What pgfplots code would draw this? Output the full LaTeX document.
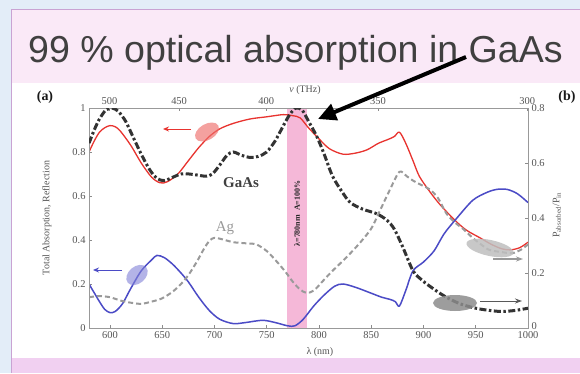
\documentclass[border=0pt]{standalone}
\usepackage{pgfplots}
\pgfplotsset{compat=1.18}
\usepackage{fontspec}
\setmainfont{Liberation Serif}
\newfontfamily\titlefont{Liberation Sans}
\usetikzlibrary{arrows.meta}
\definecolor{outerblue}{HTML}{E3EDF8}
\definecolor{pinktop}{HTML}{FAE9F7}
\definecolor{pinkbot}{HTML}{F1D0F1}
\definecolor{panelborder}{HTML}{C9A3D3}
\definecolor{bandpink}{HTML}{F5B8D8}
\definecolor{cred}{HTML}{E8332F}
\definecolor{cblue}{HTML}{4B4BC6}
\definecolor{cblack}{HTML}{333333}
\definecolor{cgray}{HTML}{9A9A9A}
\definecolor{ticktext}{HTML}{555555}
\pgfplotsset{common/.style={at={(89bp,45bp)}, anchor=south west, scale only axis,
  width=439bp, height=220bp, xmin=580, xmax=1000,
  tick align=inside, major tick length=3bp,
  axis line style={black!40, line width=0.7bp},
  tick style={black!45, line width=0.6bp},
  ticklabel style={font=\fontsize{10.5}{12}\selectfont, text=ticktext},
  /pgf/number format/assume math mode=true, /pgf/number format/1000 sep={},
  label style={font=\fontsize{10}{12}\selectfont, text=ticktext}}}
\begin{document}
\begin{tikzpicture}
\begin{scope}[x=1bp,y=1bp]
\useasboundingbox (0,0) rectangle (580,373);
\clip (0,0) rectangle (580,373);
\fill[outerblue] (0,0) rectangle (580,373);
\fill[pinktop] (11,0) rectangle (580,363);
\fill[white] (12,15) rectangle (580,290);
\fill[pinkbot] (12,0) rectangle (580,15);
\draw[panelborder, line width=1bp] (11,0) -- (11,363) -- (580,363);
\node[anchor=base west, inner sep=0, font=\titlefont\fontsize{37.7}{40}\selectfont, text=black!75] at (28,311) {99 \% optical absorption in GaAs};
\end{scope}

\begin{axis}[common, ymin=0, ymax=1,
  xtick={600,650,700,750,800,850,900,950,1000},
  ytick={0,0.2,0.4,0.6,0.8,1}, yticklabels={0,0.2,0.4,0.6,0.8,1},
  xtick pos=lower, ytick pos=left,
  xlabel={λ (nm)}, xlabel style={at={(axis description cs:0.526,-0.109)}, anchor=center},
  ylabel={Total Absorption, Reflection}, ylabel style={at={(axis description cs:-0.096,0.5)}, anchor=center}]
\fill[bandpink] (axis cs:769,0) rectangle (axis cs:789,1);
\addplot[cred, line width=1.3bp, smooth, tension=0.5] coordinates {
(580,0.80) (585,0.85) (590,0.89) (595,0.91) (600,0.92) (605,0.915) (610,0.895)
(620,0.83) (630,0.75) (640,0.685) (648,0.66) (655,0.665) (665,0.70) (675,0.76)
(685,0.82) (695,0.87) (705,0.905) (718,0.93) (734,0.95) (750,0.96) (766,0.97)
(775,0.965) (782,0.955) (790,0.91) (800,0.86) (810,0.815) (823,0.79) (835,0.795)
(846,0.81) (857,0.84) (865,0.855) (872,0.87) (877,0.89) (883,0.84) (890,0.76)
(896,0.69) (906,0.62) (916,0.56) (930,0.49) (941,0.445) (954,0.41) (965,0.38)
(975,0.36) (983,0.355) (992,0.365) (1000,0.39)};
\addplot[cblue, line width=1.5bp, smooth, tension=0.5] coordinates {
(580,0.20) (585,0.16) (590,0.12) (595,0.085) (600,0.07) (605,0.075) (612,0.11)
(620,0.18) (630,0.26) (640,0.31) (645,0.33) (652,0.32) (660,0.29) (668,0.25)
(675,0.21) (685,0.14) (695,0.08) (705,0.04) (718,0.02) (730,0.025) (746,0.035)
(758,0.025) (770,0.01) (777,0.01) (785,0.04) (795,0.10) (805,0.15) (815,0.19)
(823,0.20) (835,0.185) (849,0.16) (860,0.14) (868,0.13) (873,0.12) (877,0.10)
(883,0.17) (890,0.26) (900,0.30) (910,0.35) (920,0.43) (932,0.50) (947,0.58)
(960,0.615) (970,0.63) (980,0.63) (990,0.61) (1000,0.57)};
\node[rotate=90, font=\fontsize{8}{9}\selectfont\bfseries, text=black!85, inner sep=0] at (axis cs:779,0.52) {λ=780nm\ \ A=100\%};
\end{axis}

\begin{axis}[common, ymin=0, ymax=0.8,
  xtick={599.585,666.205,749.481,856.550,999.308}, xticklabels={500,450,400,350,300},
  ytick={0,0.2,0.4,0.6,0.8}, yticklabels={\raisebox{4bp}{0},0.2,0.4,0.6,0.8},
  xtick pos=upper, xticklabel pos=upper, ytick pos=right, yticklabel pos=right,
  xlabel={\textit{ν} (THz)}, xlabel style={at={(axis description cs:0.492,1.082)}, anchor=center},
  ylabel={P\textsubscript{absorbed}/P\textsubscript{in}}, ylabel style={at={(axis description cs:1.066,0.514)}, anchor=center}]
\addplot[cgray, line width=2bp, dash pattern=on 5bp off 3bp, smooth, tension=0.5] coordinates {
(580,0.112) (590,0.116) (600,0.112) (610,0.1) (620,0.092) (630,0.088) (640,0.096)
(650,0.108) (660,0.132) (668,0.16) (675,0.192) (683,0.24) (690,0.288) (695,0.316)
(700,0.328) (710,0.32) (718,0.312) (730,0.308) (740,0.304) (750,0.28) (760,0.24)
(768,0.204) (775,0.168) (782,0.14) (788,0.128) (795,0.136) (805,0.176) (813,0.208)
(825,0.252) (836,0.296) (845,0.336) (851,0.368) (860,0.44) (868,0.504) (877,0.568)
(884,0.552) (890,0.536) (898,0.52) (906,0.504) (914,0.472) (922,0.416) (930,0.384)
(938,0.36) (947,0.328) (955,0.304) (963,0.284) (975,0.276) (985,0.272) (993,0.284)
(1000,0.304)};
\addplot[cblack, line width=3bp, dash pattern=on 7bp off 2.5bp on 2.5bp off 2.5bp, smooth, tension=0.5] coordinates {
(580,0.672) (585,0.72) (590,0.76) (596,0.792) (602,0.80) (608,0.788) (615,0.752)
(622,0.696) (630,0.632) (638,0.576) (645,0.544) (652,0.536) (660,0.548) (668,0.56)
(676,0.56) (684,0.556) (692,0.552) (698,0.56) (705,0.592) (712,0.628) (718,0.64)
(726,0.628) (734,0.62) (742,0.624) (750,0.64) (758,0.68) (766,0.736) (772,0.776)
(778,0.80) (784,0.792) (790,0.752) (798,0.696) (805,0.632) (813,0.552) (822,0.496)
(830,0.456) (842,0.432) (855,0.416) (865,0.392) (872,0.36) (880,0.296) (890,0.208)
(898,0.176) (906,0.152) (920,0.116) (935,0.088) (950,0.072) (963,0.064) (975,0.06)
(988,0.064) (1000,0.072)};
\end{axis}

\begin{scope}[x=1bp,y=1bp]
\fill[cred!70, opacity=0.65, rotate around={30:(207,241)}] (207,241) ellipse [x radius=13, y radius=8];
\draw[cred, line width=1bp, -{Stealth[length=6bp,width=5bp]}] (191,244) -- (163,244);
\fill[cblue!70, opacity=0.6, rotate around={40:(137,98)}] (137,98) ellipse [x radius=12, y radius=8.5];
\draw[cblue, line width=1bp, -{Stealth[length=6bp,width=5bp]}] (122,103) -- (93,103);
\fill[black!45, opacity=0.85] (455,70) ellipse [x radius=22, y radius=8];
\draw[black!65, line width=1bp, -{Stealth[length=7bp,width=5bp]}] (480,72) -- (522,72);
\fill[black!25, opacity=0.85, rotate around={-12:(490,125)}] (490,125) ellipse [x radius=24, y radius=8];
\draw[black!40, line width=1.2bp, -{Stealth[length=7bp,width=5bp]}] (493,114) -- (523,114);
\node[font=\fontsize{15}{16}\selectfont\bfseries, text=black!75] at (241,190) {GaAs};
\node[font=\fontsize{15}{16}\selectfont, text=black!40] at (225,145) {Ag};
\node[font=\fontsize{14}{16}\selectfont\bfseries, text=black!90] at (45,276) {(a)};
\node[font=\fontsize{14}{16}\selectfont\bfseries, text=black!90] at (567,276) {(b)};
\draw[black, line width=4bp, -{Triangle[length=18bp,width=17bp]}] (466,316) -- (318,254);
\end{scope}
\end{tikzpicture}
\end{document}
